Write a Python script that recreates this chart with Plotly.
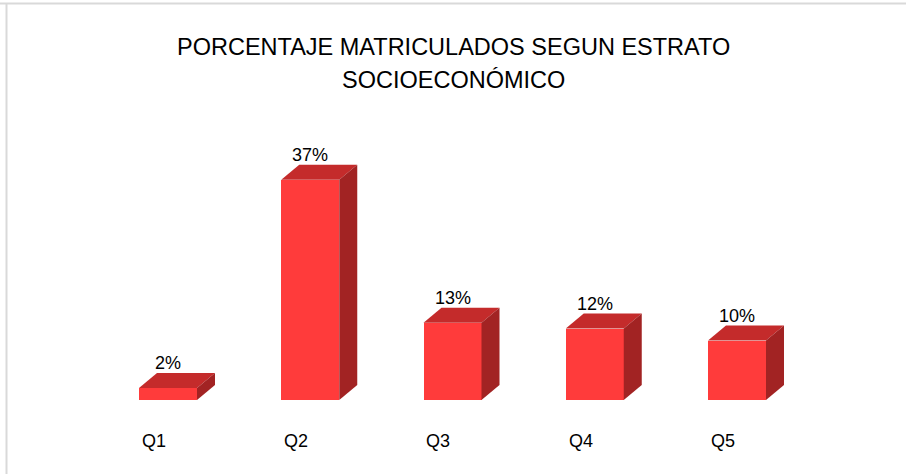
import plotly.graph_objects as go

categories = ["Q1", "Q2", "Q3", "Q4", "Q5"]
values = [2, 37, 13, 12, 10]
labels = ["2%", "37%", "13%", "12%", "10%"]
title_lines = ["PORCENTAJE MATRICULADOS SEGUN ESTRATO", "SOCIOECONÓMICO"]

FRONT = "#FF3B3B"
TOP = "#C42B2B"
SIDE = "#A22323"
FONT = "Liberation Sans, Arial, sans-serif"

W = 906
H = 474
px_per_unit = 142.25
px_per_pct = 5.95
x0 = -168 / px_per_unit
y0 = -(H - 400) / px_per_pct

bar_w = 58 / px_per_unit
dx = 18 / px_per_unit
dy = 15 / px_per_pct

xs = list(range(len(categories)))

fig = go.Figure()

# front faces
fig.add_trace(go.Bar(x=xs, y=values, width=bar_w, marker=dict(color=FRONT, line=dict(width=0)),
                     hoverinfo="skip", showlegend=False))

# top and side faces (derived from data)
for i, v in zip(xs, values):
    l = i - bar_w / 2
    r = i + bar_w / 2
    fig.add_trace(go.Scatter(x=[l, r, r + dx, l + dx, l], y=[v, v, v + dy, v + dy, v],
                             fill="toself", fillcolor=TOP, mode="lines", line=dict(width=0, color=TOP),
                             hoverinfo="skip", showlegend=False))
    fig.add_trace(go.Scatter(x=[r, r, r + dx, r + dx, r], y=[0, v, v + dy, dy, 0],
                             fill="toself", fillcolor=SIDE, mode="lines", line=dict(width=0, color=SIDE),
                             hoverinfo="skip", showlegend=False))

annotations = []
for i, v, t in zip(xs, values, labels):
    annotations.append(dict(x=i, y=v + dy, text=t, showarrow=False, xref="x", yref="y",
                            yanchor="bottom", yshift=-2, font=dict(family=FONT, size=18, color="#000000")))
for i, c in zip(xs, categories):
    annotations.append(dict(x=i - 0.1, y=0, text=c, showarrow=False, xref="x", yref="y",
                            yanchor="middle", yshift=-41, font=dict(family=FONT, size=18, color="#000000")))
annotations.append(dict(x=0.5, y=1 - 47 / H, text=title_lines[0], showarrow=False, xref="paper", yref="paper",
                        yanchor="middle", font=dict(family=FONT, size=23.5, color="#000000")))
annotations.append(dict(x=0.5, y=1 - 80 / H, text=title_lines[1], showarrow=False, xref="paper", yref="paper",
                        yanchor="middle", font=dict(family=FONT, size=23.5, color="#000000")))

fig.update_layout(
    width=W, height=H,
    margin=dict(l=0, r=0, t=0, b=0),
    paper_bgcolor="white", plot_bgcolor="white",
    xaxis=dict(range=[x0, x0 + W / px_per_unit], visible=False, fixedrange=True),
    yaxis=dict(range=[y0, y0 + H / px_per_pct], visible=False, fixedrange=True),
    annotations=annotations,
    shapes=[
        dict(type="line", xref="paper", yref="paper", x0=0, x1=1, y0=1 - 3.5 / H, y1=1 - 3.5 / H,
             line=dict(color="#D9D9D9", width=2)),
        dict(type="line", xref="paper", yref="paper", x0=6.5 / W, x1=6.5 / W, y0=0, y1=1 - 3.5 / H,
             line=dict(color="#D9D9D9", width=2)),
    ],
    bargap=0,
)

fig.write_html("out.html", config={"displayModeBar": False},
               post_script="document.body.style.margin='0';document.body.style.overflow='hidden';")
